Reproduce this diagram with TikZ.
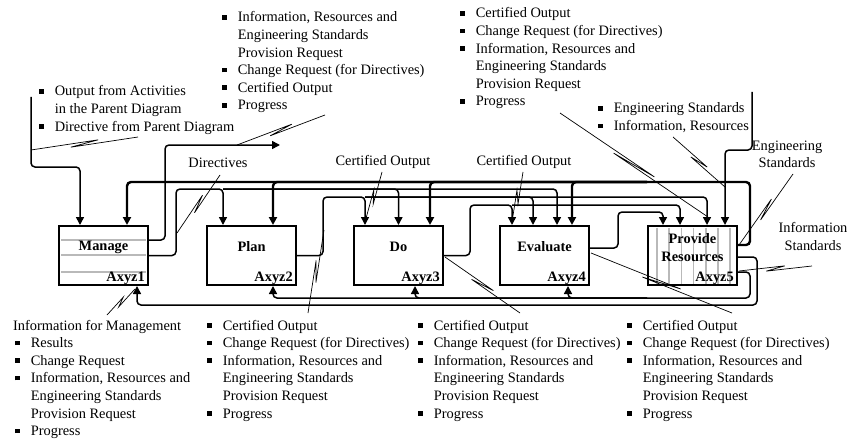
\documentclass[tikz,border=0pt]{standalone}
\usepackage{fontspec}
\setmainfont{Liberation Serif}
\usetikzlibrary{arrows.meta,calc}
\definecolor{rulegray}{RGB}{185,185,185}
\newcommand{\bul}{\rule[2.4pt]{4.6pt}{4.6pt}}
\newcommand{\squig}[2]{\draw[pointer] (#1) -- ($(#1)!0.63!(#2)!2pt!90:(#2)$) -- ($(#1)!0.37!(#2)!2pt!-90:(#2)$) -- (#2);}
\tikzstyle{box}=[draw, line width=2pt, minimum width=89pt, minimum height=59pt, inner sep=0pt]
\tikzstyle{title}=[inner sep=0pt, font=\fontsize{14.4}{17.6}\selectfont\bfseries]
\tikzstyle{list}=[inner sep=0pt, anchor=base west]
\tikzstyle{lab}=[inner sep=0pt, align=center]
\tikzstyle{stripe}=[rulegray, line width=1.5pt]
\tikzstyle{wire}=[line width=1.5pt, rounded corners=4pt]
\tikzstyle{bus}=[line width=2.4pt, rounded corners=4pt]
\tikzstyle{flow}=[-{Triangle[length=8pt,width=8pt]}]
\tikzstyle{pointer}=[line width=0.7pt]

\begin{document}
\begin{tikzpicture}[x=1pt, y=-1pt, font=\fontsize{14.4}{17.6}\selectfont]
  \useasboundingbox (0,0) rectangle (848,441);
  %% Activity boxes
  \draw (103.5,255.5) node[box] (manage) {};
  \draw (251.5,255.5) node[box] (plan) {};
  \draw (398.5,255.5) node[box] (do) {};
  \draw (544.5,255.5) node[box] (eval) {};
  \draw (692.5,255.5) node[box] (prov) {};
  \foreach \y in {240,255,272}
    \draw[stripe] (61,\y) -- (146,\y);
  \foreach \x in {0,...,6}
    \draw[stripe] (657+12.2*\x,227.5) -- (657+12.2*\x,283.5);

  \node[title] (manage-t) at ([yshift=8.5pt]manage.center) {Manage};
  \node[title] (plan-t) at ([yshift=8.5pt]plan.center) {Plan};
  \node[title] (do-t) at ([yshift=8.5pt]do.center) {Do};
  \node[title] (eval-t) at ([yshift=8.5pt]eval.center) {Evaluate};
  \node[title, align=center] (prov-t) at ([yshift=8pt]prov.center) {Provide\\[1pt]Resources};
  \node[title, anchor=base east] (manage-id) at ([xshift=-4pt,yshift=4.5pt]manage.south east) {Axyz1};
  \node[title, anchor=base east] (plan-id) at ([xshift=-4pt,yshift=4.5pt]plan.south east) {Axyz2};
  \node[title, anchor=base east] (do-id) at ([xshift=-4pt,yshift=4.5pt]do.south east) {Axyz3};
  \node[title, anchor=base east] (eval-id) at ([xshift=-4pt,yshift=4.5pt]eval.south east) {Axyz4};
  \node[title, anchor=base east] (prov-id) at ([xshift=-4pt,yshift=4.5pt]prov.south east) {Axyz5};

  %% Arrow ends on the boxes
  \coordinate (m-c1) at ([xshift=-23.5pt]manage.north);
  \coordinate (m-c2) at ([xshift=23.5pt]manage.north);
  \coordinate (p-c1) at ([xshift=-28.5pt]plan.north);
  \coordinate (p-c2) at ([xshift=21.5pt]plan.north);
  \coordinate (d-c1) at ([xshift=-33.5pt]do.north);
  \coordinate (d-c2) at (do.north);
  \coordinate (d-c3) at ([xshift=31.5pt]do.north);
  \coordinate (e-c1) at ([xshift=-32.5pt]eval.north);
  \coordinate (e-c2) at ([xshift=-11.5pt]eval.north);
  \coordinate (e-c3) at ([xshift=12.5pt]eval.north);
  \coordinate (e-c4) at ([xshift=27.5pt]eval.north);
  \coordinate (r-c1) at ([xshift=-29.5pt]prov.north);
  \coordinate (r-c2) at ([xshift=-12.5pt]prov.north);
  \coordinate (r-c3) at ([xshift=14.5pt]prov.north);
  \coordinate (r-c4) at ([xshift=32.5pt]prov.north);
  \coordinate (m-m) at ([xshift=33.5pt]manage.south);
  \coordinate (p-m) at ([xshift=21.5pt]plan.south);
  \coordinate (d-m) at ([xshift=16.5pt]do.south);
  \coordinate (e-m) at ([xshift=23.5pt]eval.south);

  %% Resources
  \coordinate (resbus) at (750,182);
  \draw[bus,flow] ([yshift=10.5pt]prov.east) -| (resbus) -| (m-c2);
  \foreach \c in {p-c2,d-c3,e-c4}
    \draw[bus,flow] (resbus -| prov.west) -| (\c);
  %% Directives
  \coordinate (dirbus) at (176,189);
  \draw[wire,flow] (manage.east) -| (dirbus) -| (p-c1);
  \foreach \c in {d-c2,e-c3}
    \draw[wire,flow] (dirbus -| p-c1) -| (\c);
  %% Plan output
  \coordinate (planbus) at (323,197);
  \draw[wire,flow] (plan.east) -| (planbus) -| (d-c1);
  \foreach \c in {e-c2,r-c3}
    \draw[wire,flow] (planbus -| d-c1) -| (\c);
  %% Do output
  \coordinate (dobus) at (470,205);
  \draw[wire,flow] (do.east) -| (dobus) -| (e-c1);
  \draw[wire,flow] (dobus -| e-c1) -| (r-c2);
  %% Evaluate output
  \coordinate (evalbus) at (618,212);
  \draw[wire,flow] ([yshift=7.5pt]eval.east) -| (evalbus) -| (r-c1);
  %% From outside
  \coordinate (parent) at (31,97);
  \coordinate (parentbus) at (31,167);
  \draw[wire,flow] (parent) -- (parentbus) -| (m-c1);
  \coordinate (extin) at (752,92);
  \coordinate (extbus) at (752,150);
  \draw[wire,flow] (extin) -- (extbus) -| (r-c4);
  \coordinate (upbus) at (165,145);
  \coordinate (upout) at (280,145);
  \draw[wire,flow] ([yshift=15.5pt]manage.east) -| (upbus) -- (upout);
  %% Mechanisms
  \coordinate (mechbus) at (750,298);
  \draw[wire,flow] ([yshift=-16.5pt]prov.east) -| (mechbus) -| (p-m);
  \foreach \c in {d-m,e-m}
    \draw[wire,flow] (mechbus -| prov.west) -| (\c);
  \coordinate (mgmtbus) at (757,305);
  \draw[wire,flow] ([yshift=-1.5pt]prov.east) -| (mgmtbus) -| (m-m);

  %% Labels
  \node[lab] (dir-lab) at (218,163) {Directives};
  \node[lab] (co1-lab) at (383,162) {Certified Output};
  \node[lab] (co2-lab) at (524,162) {Certified Output};
  \node[lab] (std-lab) at (787,154.5) {Engineering\\Standards};
  \node[lab] (is-lab) at (813,236.5) {Information\\Standards};
  \node[list] (parent-list) at (39,96) {\begin{tabular}[t]{@{}l@{\hspace{11pt}}l@{}}
      \bul & Output from Activities\\
           & in the Parent Diagram\\
      \bul & Directive from Parent Diagram
    \end{tabular}};
  \node[list] (up-list) at (222,22) {\begin{tabular}[t]{@{}l@{\hspace{11pt}}l@{}}
      \bul & Information, Resources and\\
           & Engineering Standards\\
           & Provision Request\\
      \bul & Change Request (for Directives)\\
      \bul & Certified Output\\
      \bul & Progress
    \end{tabular}};
  \node[list] (tr-list) at (460,18) {\begin{tabular}[t]{@{}l@{\hspace{11pt}}l@{}}
      \bul & Certified Output\\
      \bul & Change Request (for Directives)\\
      \bul & Information, Resources and\\
           & Engineering Standards\\
           & Provision Request\\
      \bul & Progress
    \end{tabular}};
  \node[list] (es-list) at (598,113) {\begin{tabular}[t]{@{}l@{\hspace{11pt}}l@{}}
      \bul & Engineering Standards\\
      \bul & Information, Resources
    \end{tabular}};
  \node[list] (mgmt-list) at (15,330) {\begin{tabular}[t]{@{}l@{\hspace{11pt}}l@{}}
      \multicolumn{2}{@{}l@{}}{\hspace{-2pt}Information for Management}\\
      \bul & Results\\
      \bul & Change Request\\
      \bul & Information, Resources and\\
           & Engineering Standards\\
           & Provision Request\\
      \bul & Progress
    \end{tabular}};
  \node[list] (plan-list) at (207,330) {\begin{tabular}[t]{@{}l@{\hspace{11pt}}l@{}}
      \bul & Certified Output\\
      \bul & Change Request (for Directives)\\
      \bul & Information, Resources and\\
           & Engineering Standards\\
           & Provision Request\\
      \bul & Progress
    \end{tabular}};
  \node[list] (do-list) at (418,330) {\begin{tabular}[t]{@{}l@{\hspace{11pt}}l@{}}
      \bul & Certified Output\\
      \bul & Change Request (for Directives)\\
      \bul & Information, Resources and\\
           & Engineering Standards\\
           & Provision Request\\
      \bul & Progress
    \end{tabular}};
  \node[list] (eval-list) at (627,330) {\begin{tabular}[t]{@{}l@{\hspace{11pt}}l@{}}
      \bul & Certified Output\\
      \bul & Change Request (for Directives)\\
      \bul & Information, Resources and\\
           & Engineering Standards\\
           & Provision Request\\
      \bul & Progress
    \end{tabular}};

  %% Pointers
  \coordinate (parent-a) at (138,137); \coordinate (parent-b) at (31,150);
  \coordinate (up-a) at (325,115); \coordinate (up-b) at (237,145);
  \coordinate (dir-a) at (220,175); \coordinate (dir-b) at (177,233);
  \coordinate (co1-a) at (382,172); \coordinate (co1-b) at (365,222);
  \coordinate (co2-a) at (523,172); \coordinate (co2-b) at (512,222);
  \coordinate (tr-a) at (560,113); \coordinate (tr-b) at (708,217);
  \coordinate (es-a) at (673,137); \coordinate (es-b) at (725,187);
  \coordinate (std-a) at (793,174); \coordinate (std-b) at (739,245);
  \coordinate (is-a) at (812,266); \coordinate (is-b) at (739,271);
  \coordinate (mgmt-a) at (107,315); \coordinate (mgmt-b) at (135,289);
  \coordinate (plan-a) at (308,313); \coordinate (plan-b) at (324,230);
  \coordinate (do-a) at (520,313); \coordinate (do-b) at (445,257);
  \coordinate (eval-a) at (732,313); \coordinate (eval-b) at (591,253);
  \foreach \p in {parent,up,dir,co1,co2,tr,es,std,is,mgmt,plan,do,eval}
    {\squig{\p-a}{\p-b}}
\end{tikzpicture}
\end{document}
